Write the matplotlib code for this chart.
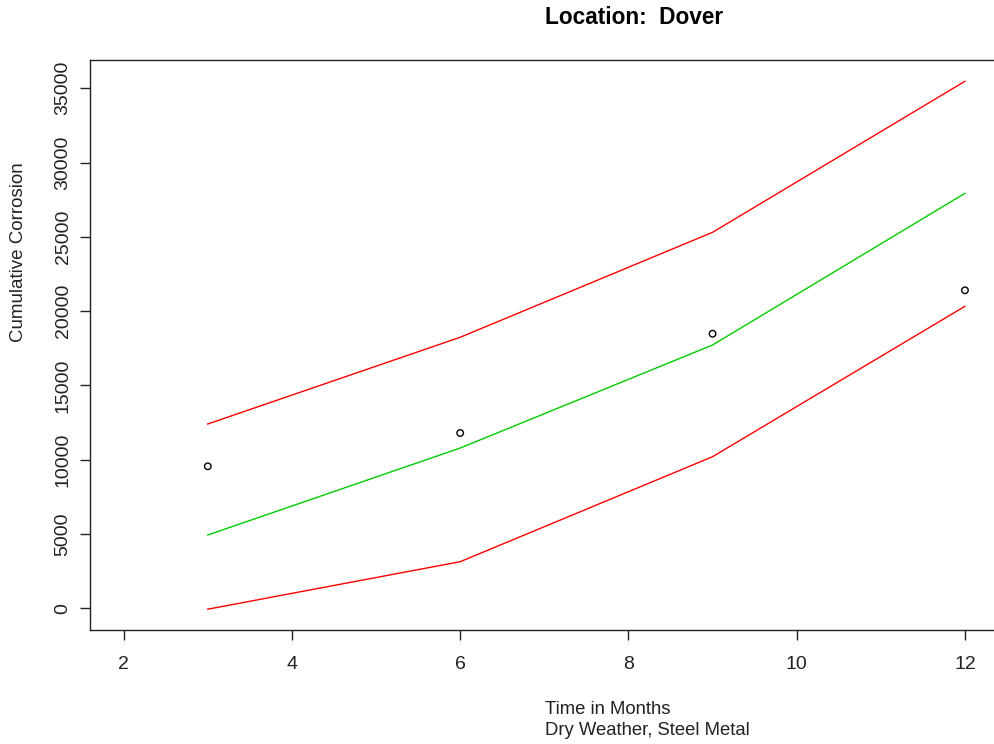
import matplotlib.pyplot as plt

plt.rcParams["font.family"] = ["Liberation Sans", "DejaVu Sans"]

# cumulative corrosion for Dover, dry weather, steel metal
months = [3, 6, 9, 12]
observed = [9557, 11799, 18482, 21403]
fitted = [4934, 10785, 17721, 27931]
upper_band = [12405, 18240, 25306, 35470]
lower_band = [-60, 3136, 10203, 20326]

x_ticks = [2, 4, 6, 8, 10, 12]
y_ticks = [0, 5000, 10000, 15000, 20000, 25000, 30000, 35000]

fig = plt.figure(figsize=(9.95, 7.44), dpi=100)
# plot region runs a little past the right edge of the canvas
ax = fig.add_axes([90 / 995, 1 - 629.7 / 744, 908.6 / 995, 569.7 / 744])

ax.plot(months, upper_band, color="#FF0000", lw=1.0)
ax.plot(months, fitted, color="#00CD00", lw=1.0)
ax.plot(months, lower_band, color="#FF0000", lw=1.0)
ax.scatter(months, observed, s=22, facecolors="none", edgecolors="black",
           linewidths=1.0, zorder=5)

ax.set_xlim(1.6, 12.4)
ax.set_ylim(-1440, 36903)

ax.set_xticks(x_ticks)
ax.set_yticks(y_ticks)
ax.set_yticklabels([str(v) for v in y_ticks], rotation=90, va="center")
ax.tick_params(axis="both", direction="out", length=7.2, width=1.0,
               labelsize=14, colors="#222222")
ax.tick_params(axis="x", pad=12)
ax.tick_params(axis="y", pad=6)

for side in ["left", "top", "bottom"]:
    ax.spines[side].set_linewidth(1.0)
    ax.spines[side].set_color("#222222")
ax.spines["right"].set_visible(False)

fig.text(634 / 995, 1 - 18 / 744, "Location:  Dover", ha="center", va="center",
         fontsize=16.3, fontweight="bold")
fig.text(545 / 995, 1 - 720 / 744, "Time in Months\nDry Weather, Steel Metal",
         ha="left", va="center", fontsize=13.3, linespacing=1.3, color="#222222")
fig.text(19 / 995, 1 - 252 / 744, "Cumulative Corrosion", rotation=90,
         ha="center", va="center", fontsize=13.5, color="#222222")

fig.savefig("out.png", dpi=100)
